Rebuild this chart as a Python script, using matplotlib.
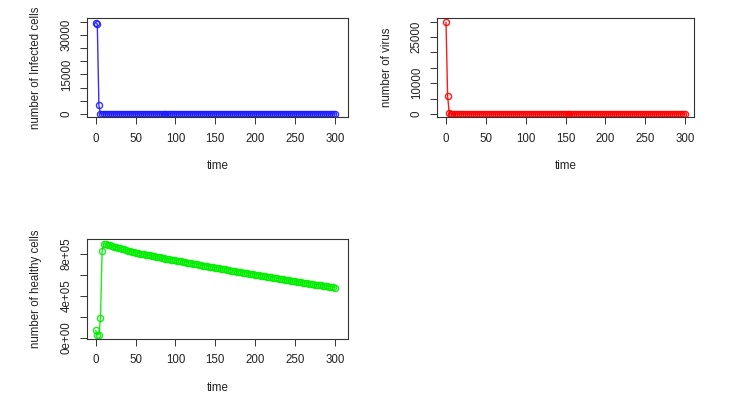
import matplotlib
matplotlib.use("Agg")
import matplotlib.pyplot as plt

plt.rcParams["font.family"] = ["Liberation Sans", "DejaVu Sans"]

# time points shared by all three series (output every 2.5 from t=10)
TIME = [0, 2, 4, 6, 8] + [10 + 2.5 * i for i in range(117)]

# infected cells: crash in the first few steps, then flat at zero
INFECTED = [34600, 34100, 3300] + [0] * (len(TIME) - 3)

# free virus particles
VIRUS = [29800, 5800, 400] + [0] * (len(TIME) - 3)

# healthy cells (x 1e5)
HEALTHY_E5 = [
    0.70, 0.25, 0.30, 1.90, 8.27,
    9.00, 8.95, 8.89, 8.84, 8.78, 8.73, 8.67, 8.62, 8.56, 8.51,
    8.45, 8.40, 8.34, 8.29, 8.23, 8.18, 8.12, 8.09, 8.05, 8.01,
    7.97, 7.94, 7.90, 7.87, 7.83, 7.80, 7.76, 7.72, 7.68, 7.65,
    7.61, 7.58, 7.54, 7.51, 7.47, 7.44, 7.40, 7.37, 7.33, 7.30,
    7.26, 7.23, 7.19, 7.16, 7.12, 7.09, 7.05, 7.02, 6.98, 6.95,
    6.91, 6.88, 6.84, 6.81, 6.77, 6.74, 6.70, 6.67, 6.63, 6.60,
    6.57, 6.53, 6.50, 6.47, 6.43, 6.40, 6.37, 6.33, 6.30, 6.27,
    6.23, 6.20, 6.17, 6.13, 6.10, 6.07, 6.03, 6.00, 5.97, 5.93,
    5.90, 5.87, 5.84, 5.80, 5.77, 5.74, 5.71, 5.67, 5.64, 5.61,
    5.58, 5.54, 5.51, 5.48, 5.45, 5.41, 5.38, 5.35, 5.32, 5.29,
    5.26, 5.23, 5.20, 5.17, 5.15, 5.12, 5.09, 5.06, 5.03, 5.00,
    4.97, 4.94, 4.91, 4.88, 4.86, 4.83, 4.80,
]
HEALTHY = [v * 1e5 for v in HEALTHY_E5]

X_TICKS = [0, 50, 100, 150, 200, 250, 300]

W, H = 750, 399


def px_axes(fig, left, top, right, bottom):
    return fig.add_axes([left / W, (H - bottom) / H, (right - left) / W, (bottom - top) / H])


def style_r(ax, xlim, ylim, yticks, ylabels, ylabel):
    ax.set_xlim(*xlim)
    ax.set_ylim(*ylim)
    ax.set_xticks(X_TICKS)
    ax.set_xticklabels([str(t) for t in X_TICKS])
    ax.set_yticks(yticks)
    ax.set_yticklabels(ylabels, rotation=90, va="center")
    ax.tick_params(direction="out", length=5, width=0.7, colors="#333333",
                   labelsize=8.3, labelcolor="#222222")
    ax.tick_params(axis="x", pad=6)
    ax.tick_params(axis="y", pad=5)
    for sp in ax.spines.values():
        sp.set_linewidth(0.8)
        sp.set_color("#333333")
    ax.set_xlabel("time", fontsize=8.3, color="#222222")
    ax.set_ylabel(ylabel, fontsize=8.3, color="#222222")
    ax.xaxis.set_label_coords(0.5, -0.43)
    ax.yaxis.set_label_coords(-0.17, 0.5)


def series(ax, y, color):
    ax.plot(TIME, y, color=color, lw=1.0, marker="o", ms=4.4,
            mfc="none", mew=1.0, alpha=0.9)


fig = plt.figure(figsize=(W / 100, H / 100), dpi=100, facecolor="white")

# infected cells
ax1 = px_axes(fig, 86.7, 18.3, 348.3, 117.3)
series(ax1, INFECTED, "#1a1aff")
style_r(ax1, (-11.3, 316.7), (-1250, 36290),
        list(range(0, 35001, 5000)),
        ["0", "", "", "15000", "", "", "30000", ""],
        "number of Infected cells")

# virus
ax2 = px_axes(fig, 436.7, 18.3, 694.0, 117.3)
series(ax2, VIRUS, "#ff0000")
style_r(ax2, (-11.7, 311.3), (-1073, 31105),
        list(range(0, 30001, 5000)),
        ["0", "", "10000", "", "", "25000", ""],
        "number of virus")

# healthy cells
ax3 = px_axes(fig, 86.7, 239.0, 348.3, 339.0)
series(ax3, HEALTHY, "#00ee00")
style_r(ax3, (-11.3, 316.7), (-13000, 945000),
        [0, 200000, 400000, 600000, 800000],
        ["0e+00", "", "4e+05", "", "8e+05"],
        "number of healthy cells")

fig.savefig("out.png", dpi=100, facecolor="white")
